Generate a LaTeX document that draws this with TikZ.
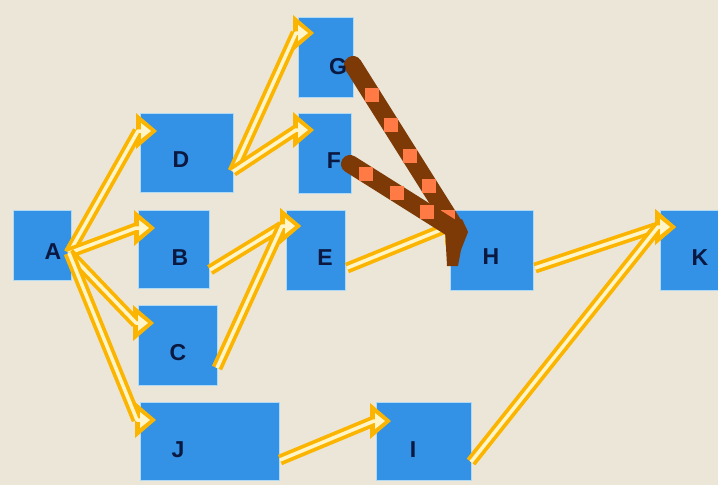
\documentclass[tikz,border=0pt]{standalone}
\usepackage{fontspec}
\setmainfont{Liberation Sans}
\usetikzlibrary{arrows.meta,calc,decorations.markings}
\definecolor{bg}{HTML}{ECE6D8}
\definecolor{boxblue}{HTML}{3391E6}
\definecolor{boxedge}{HTML}{B0DAF4}
\definecolor{ylw}{HTML}{FBB500}
\definecolor{crm}{HTML}{FFF5C8}
\definecolor{brn}{HTML}{7E3A06}
\definecolor{crl}{HTML}{FF7A45}
\definecolor{navy}{HTML}{0B1840}
\begin{document}
\begin{tikzpicture}[x=1pt,y=-1pt,
  box/.style={fill=boxblue, draw=boxedge, line width=1pt, inner sep=0pt, outer sep=0pt},
  lab/.style={font=\fontsize{23}{23}\selectfont\bfseries, text=navy, inner sep=0pt},
  yarrow/.style={line join=round,
    preaction={draw=ylw, line width=11pt, shorten >=0pt, line join=round,
      -{Triangle[length=21pt,width=36pt,line width=0pt]}},
    draw=crm, line width=3.5pt, shorten >=6pt,
    -{Triangle[length=10pt,width=16pt,line width=0pt]}},
  sq/.style={fill=crl, inner sep=0pt, minimum size=14pt},
  bline/.style={draw=brn, line width=18pt, line cap=round}
]
\fill[bg] (0,0) rectangle (718,485);
\useasboundingbox (0,0) rectangle (718,485);

% boxes
\node[box, minimum width=58pt, minimum height=70pt] (A) at (42,245) {};
\node[box, minimum width=93pt, minimum height=79pt] (D) at (186.5,152.5) {};
\node[box, minimum width=71pt, minimum height=78pt] (B) at (173.5,249) {};
\node[box, minimum width=79pt, minimum height=80pt] (C) at (177.5,345) {};
\node[box, minimum width=139pt, minimum height=78pt] (J) at (209.5,441) {};
\node[box, minimum width=55pt, minimum height=80pt] (G) at (325.5,57) {};
\node[box, minimum width=53pt, minimum height=80pt] (F) at (324.5,153) {};
\node[box, minimum width=59pt, minimum height=80pt] (E) at (315.5,250) {};
\node[box, minimum width=83pt, minimum height=80pt] (H) at (491.5,250) {};
\node[box, minimum width=95pt, minimum height=78pt] (I) at (423.5,441) {};
\node[box, minimum width=58pt, minimum height=80pt] (K) at (689,250) {};

% yellow arrows
\draw[yarrow] ($(A.east)+(-2,8)$) -- ($(D.north west)+(-2,18)$) -- ($(D.north west)+(17,18)$);
\draw[yarrow] ($(A.east)+(-2,8)$) -- ($(B.north west)+(-2,18)$) -- ($(B.north west)+(17,18)$);
\draw[yarrow] ($(A.east)+(-2,8)$) -- ($(C.north west)+(-2,18)$) -- ($(C.north west)+(16,18)$);
\draw[yarrow] ($(A.east)+(-2,8)$) -- ($(J.north west)+(-3,18)$) -- ($(J.north west)+(16,18)$);
\draw[yarrow] ($(D.east)+(0,19)$) -- ($(G.north west)+(-2,16)$) -- ($(G.north west)+(16,16)$);
\draw[yarrow] ($(D.east)+(0,19)$) -- ($(F.north west)+(-2,17)$) -- ($(F.north west)+(16,17)$);
\draw[yarrow] ($(B.east)+(1,21)$) -- ($(E.north west)+(-4,16)$) -- ($(E.north west)+(15,16)$);
\draw[yarrow] ($(C.east)+(0,23)$) -- ($(E.north west)+(-4,16)$) -- ($(E.north west)+(15,16)$);
\draw[yarrow] ($(E.east)+(2,18)$) -- ($(H.north west)+(-2,17)$) -- ($(H.north west)+(16,17)$);
\draw[yarrow] ($(H.east)+(2,18)$) -- ($(K.north west)+(-2,17)$) -- ($(K.north west)+(16,17)$);
\draw[yarrow] ($(I.east)+(0,21)$) -- ($(K.north west)+(-2,17)$) -- ($(K.north west)+(16,17)$);
\draw[yarrow] ($(J.east)+(1,19)$) -- ($(I.north west)+(-2,19)$) -- ($(I.north west)+(15,19)$);

% brown lines into H
\fill[brn] ($(H.north west)+(-5,18)$) -- ($(H.north west)+(12,9)$) -- ($(H.north west)+(18,22)$)
  -- ($(H.north west)+(11,40)$) -- ($(H.north west)+(8,56)$) -- ($(H.north west)+(-3,56)$) -- cycle;
\draw[bline, postaction={decorate, decoration={markings,
   mark=between positions 35pt and 185pt step 36pt with {\node[sq]{};}}}]
  ($(G.east)+(0,8)$) -- ($(H.north west)+(8,22)$);
\draw[bline, postaction={decorate, decoration={markings,
   mark=between positions 19pt and 100pt step 36pt with {\node[sq]{};}}}]
  ($(F.east)+(-1,11)$) -- ($(H.north west)+(8,22)$);

% labels
\node[lab] (tA) at (53,252) {A};
\node[lab] (tD) at (181,160) {D};
\node[lab] (tB) at (180,258) {B};
\node[lab] (tC) at (178,353) {C};
\node[lab] (tJ) at (178,450) {J};
\node[lab] (tG) at (338,67) {G};
\node[lab] (tF) at (334,161) {F};
\node[lab] (tE) at (325,258) {E};
\node[lab] (tH) at (491,257) {H};
\node[lab] (tI) at (413,450) {I};
\node[lab] (tK) at (700,258) {K};
\end{tikzpicture}
\end{document}
